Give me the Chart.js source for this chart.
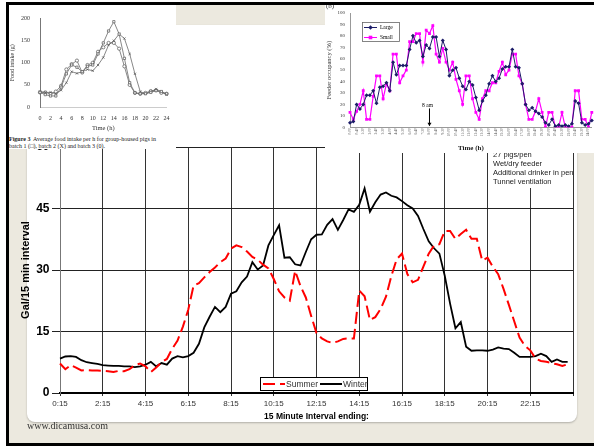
<!DOCTYPE html>
<html>
<head>
<meta charset="utf-8">
<script src="https://cdn.jsdelivr.net/npm/chart.js@4.4.1/dist/chart.umd.min.js"></script>
<style>
  html, body { margin: 0; padding: 0; background: #fff; width: 594px; height: 446px; overflow: hidden; }
  #slide { position: absolute; left: 6px; top: 2px; width: 588px; height: 444px; box-sizing: border-box;
           background: #ECE9DF; border-left: 3px solid #000; border-top: 3px solid #000; border-bottom: 3px solid #000; }
  #panel { position: absolute; left: 27px; top: 25px; width: 550px; height: 397px; background: #fff;
           border-radius: 0 0 8px 8px; box-shadow: 0 1px 2px rgba(0,0,0,0.25); }
  #mainWrap { position: absolute; left: 10px; top: 120px; }
  #site { position: absolute; left: 27px; top: 420px; font: 10px "Liberation Serif", "Times New Roman", serif; color: #333; }
  .inset { position: absolute; background: #fff; overflow: hidden; }
  #inset1 { left: 9px; top: 5px; width: 167px; height: 144px; }
  #inset2 { left: 325px; top: 5px; width: 269px; height: 148px; }
  #caption { position: absolute; left: 0px; top: 131px; white-space: nowrap; color: #222;
             font: 6px/7px "Liberation Serif", "Times New Roman", serif; }
</style>
</head>
<body>
<div id="slide"></div>
<div id="panel"></div>
<div id="mainWrap"><canvas id="mainChart" width="567" height="302"></canvas></div>
<div id="site">www.dicamusa.com</div>

<div class="inset" id="inset1">
  <canvas id="intakeChart" width="168" height="130"></canvas>
  <div id="caption"><b>Figure 3</b>&nbsp; Average food intake per h for group-housed pigs in<br>batch 1 (&#9633;), batch 2 (X) and batch 3 (0).</div>
</div>
<div class="inset" id="inset2">
  <canvas id="occChart" width="272" height="147"></canvas>
</div>

<script>
// ---- main chart: gallons per 15 min interval ----
var summer = [7.2, 5.8, 6.8, 6.2, 5.5, 5.6, 5.5, 5.5, 5.4, 5.3,
              5.1, 5.4, 5.3, 5.8, 6.8, 7.2, 6.5, 5.1, 6.2, 7.5,
              8.3, 10.8, 12.8, 16.2, 20.3, 26.2, 26.8, 28.2, 29.5, 30.6,
              31.9, 32.8, 35.2, 36.0, 35.6, 34.5, 33.2, 32.5, 31.3, 30.4,
              27.8, 24.8, 23.3, 22.5, 29.8, 26.1, 23.3, 18.8, 14.6, 13.3,
              12.6, 12.2, 12.6, 13.2, 13.3, 13.3, 25.0, 23.6, 17.8, 18.5,
              20.5, 23.5, 28.5, 32.6, 34.0, 29.0, 27.0, 27.6, 30.8, 34.0,
              36.0, 36.3, 39.5, 39.5, 37.6, 38.8, 39.8, 37.6, 37.6, 32.3,
              33.0, 30.8, 29.0, 25.4, 21.5, 17.5, 13.5, 11.5, 10.4, 8.4,
              7.8, 7.6, 7.3, 7.0, 6.6, 7.0];
var winter = [8.4, 8.9, 9.0, 8.8, 8.0, 7.5, 7.3, 7.1, 6.8, 6.7,
              6.6, 6.6, 6.5, 6.5, 6.3, 6.5, 6.9, 7.6, 6.5, 7.3,
              6.9, 8.4, 9.0, 8.7, 9.0, 9.8, 12.0, 16.0, 18.6, 21.0,
              19.7, 21.0, 24.2, 24.8, 27.0, 28.4, 31.9, 30.1, 31.1, 36.0,
              38.5, 40.9, 33.0, 33.1, 31.4, 31.1, 34.4, 37.5, 38.6, 38.7,
              41.0, 42.4, 39.8, 42.2, 44.8, 44.2, 45.9, 49.9, 44.2, 46.5,
              48.4, 48.9, 48.1, 47.7, 46.8, 45.8, 45.0, 43.2, 40.0, 37.0,
              35.3, 34.0, 28.6, 21.8, 15.8, 17.3, 11.3, 10.3, 10.4, 10.4,
              10.3, 10.6, 11.1, 10.8, 10.7, 9.8, 8.8, 8.8, 8.8, 9.0,
              9.6, 9.0, 7.6, 8.2, 7.6, 7.6];
var galTicks = [0, 15, 30, 45, 60];
var penNotes = ['27 pigs/pen', 'Wet/dry feeder', 'Additional drinker in pen', 'Tunnel ventilation'];

// 0:15 ... 24:15, one label per 15 minutes
var timeLabels = [];
for (var m = 15; m <= 24 * 60 + 15; m += 15) {
    timeLabels.push(Math.floor(m / 60) + ':' + ('0' + (m % 60)).slice(-2));
}

// ---- inset 1: food intake per hour ----
var hours = [0, 1, 2, 3, 4, 5, 6, 7, 8, 9, 10, 11, 12, 13, 14, 15, 16, 17, 18, 19, 20, 21, 22, 23, 24];
var batch1 = [33, 28, 25, 25, 45, 75, 95, 90, 80, 92, 95, 120, 145, 172, 193, 165, 110, 55, 32, 30, 30, 33, 37, 35, 30];
var batch2 = [35, 33, 33, 30, 38, 55, 80, 76, 80, 85, 82, 95, 112, 140, 150, 165, 155, 120, 75, 35, 30, 35, 40, 35, 28];
var batch3 = [33, 33, 30, 35, 48, 85, 97, 105, 78, 95, 100, 125, 135, 145, 145, 132, 92, 50, 32, 30, 32, 36, 38, 32, 30];

// ---- inset 2: feeder occupancy ----
var largeOcc = [4, 5, 20, 16, 20, 28, 28, 32, 21, 35,
                36, 39, 32, 57, 46, 54, 54, 54, 68, 80,
                74, 76, 62, 72, 69, 79, 79, 62, 76, 68,
                45, 50, 52, 43, 36, 33, 40, 37, 26, 15,
                23, 28, 38, 45, 40, 43, 51, 53, 53, 68,
                53, 52, 38, 20, 15, 17, 14, 12, 9, 4,
                2, 7, 1, 2, 1, 2, 1, 3, 23, 21,
                4, 2, 3, 6];
var smallOcc = [13, 7, 14, 20, 32, 7, 7, 27, 45, 45,
                25, 38, 32, 64, 64, 39, 45, 50, 75, 75,
                82, 82, 57, 85, 82, 89, 64, 57, 69, 57,
                50, 57, 42, 32, 20, 45, 45, 25, 13, 7,
                25, 32, 32, 39, 39, 49, 57, 46, 50, 64,
                64, 45, 38, 20, 7, 7, 14, 25, 13, 0,
                13, 13, 0, 0, 13, 0, 0, 0, 32, 32,
                7, 7, 0, 13];
var occLabels = [];
for (var k = 0; k < largeOcc.length; k++) {
    var mm = k * 20;
    occLabels.push(Math.floor(mm / 60) + ':' + ('0' + (mm % 60)).slice(-2));
}

var SANS = '"Liberation Sans", Arial, sans-serif';
var SERIF = '"Liberation Serif", "Times New Roman", serif';
Chart.defaults.color = '#333';

var mainExtras = {
    id: 'mainExtras',
    beforeDatasetsDraw: function (chart) {
        var ctx = chart.ctx, a = chart.chartArea;
        ctx.save();
        ctx.fillStyle = '#fff';
        ctx.fillRect(a.right - 83, a.top + 1, 81, 40);
        ctx.fillStyle = '#222';
        ctx.font = '7.5px ' + SANS;
        ctx.textBaseline = 'middle';
        penNotes.forEach(function (t, i) {
            ctx.fillText(t, a.right - 80, a.top + 8 + i * 9);
        });
        ctx.restore();
    },
    afterDatasetsDraw: function (chart) {
        // legend box sits inside the plot, bottom middle
        var ctx = chart.ctx, a = chart.chartArea;
        var lx = a.left + 200, ly = a.bottom - 16;
        ctx.save();
        ctx.fillStyle = '#fff';
        ctx.fillRect(lx, ly, 108, 14);
        ctx.strokeStyle = '#000';
        ctx.lineWidth = 1;
        ctx.strokeRect(lx + 0.5, ly + 0.5, 107, 13);
        ctx.font = '8.5px ' + SANS;
        ctx.textBaseline = 'middle';
        var offs = [3, 60];
        chart.data.datasets.forEach(function (ds, i) {
            var sx = lx + offs[i];
            ctx.beginPath();
            ctx.setLineDash(ds.borderDash || []);
            ctx.strokeStyle = ds.borderColor;
            ctx.lineWidth = 2;
            ctx.moveTo(sx, ly + 7);
            ctx.lineTo(sx + 22, ly + 7);
            ctx.stroke();
            ctx.setLineDash([]);
            ctx.fillStyle = '#333';
            ctx.fillText(ds.label, sx + 23, ly + 7.5);
        });
        ctx.restore();
    }
};

new Chart(document.getElementById('mainChart'), {
    type: 'line',
    data: {
        labels: timeLabels,
        datasets: [
            { label: 'Summer', data: summer, borderColor: '#ff0000', borderWidth: 2, borderDash: [12, 5],
              pointRadius: 0, fill: false, tension: 0 },
            { label: 'Winter', data: winter, borderColor: '#000', borderWidth: 1.8,
              pointRadius: 0, fill: false, tension: 0 }
        ]
    },
    options: {
        responsive: false,
        animation: false,
        layout: { padding: { top: 27, right: 4, left: 0, bottom: 0 } },
        plugins: { legend: { display: false }, tooltip: { enabled: false } },
        scales: {
            x: {
                afterFit: function (s) { s.height = 29; },
                grid: {
                    color: function (c) { return c.index % 8 === 0 ? '#333' : 'rgba(0,0,0,0)'; },
                    lineWidth: 1, tickLength: 3
                },
                border: { color: '#000', width: 2 },
                ticks: {
                    autoSkip: false, maxRotation: 0, minRotation: 0, padding: 2.7, color: '#333',
                    font: { family: SANS, size: 8 },
                    callback: function (v, i) { return (i % 8 === 0 && i < 96) ? this.getLabelForValue(v) : ''; }
                },
                title: { display: true, text: '15 Minute Interval ending:', color: '#000',
                         font: { family: SANS, size: 8.5, weight: 'bold' }, padding: 0 }
            },
            y: {
                min: 0, max: 60,
                afterFit: function (s) { s.width = 50; },
                afterBuildTicks: function (s) { s.ticks = galTicks.map(function (v) { return { value: v }; }); },
                grid: { color: '#222', lineWidth: 1, tickLength: 8 },
                border: { color: '#777', width: 1 },
                ticks: { padding: 2.5, color: '#000', font: { family: SANS, size: 12, weight: 'bold' } },
                title: { display: true, text: 'Gal/15 min interval', color: '#000',
                         font: { family: SANS, size: 11, weight: 'bold' }, padding: { top: 9.4, bottom: 0 } }
            }
        }
    },
    plugins: [mainExtras]
});

// ---- inset 1 chart ----
new Chart(document.getElementById('intakeChart'), {
    type: 'line',
    data: {
        labels: hours,
        datasets: [
            { label: 'batch 1', data: batch1, pointStyle: 'rect' },
            { label: 'batch 2', data: batch2, pointStyle: 'crossRot' },
            { label: 'batch 3', data: batch3, pointStyle: 'circle' }
        ].map(function (d) {
            d.borderColor = '#6a6a6a'; d.borderWidth = 0.8; d.pointRadius = 1.6;
            d.pointBorderColor = '#555'; d.pointBackgroundColor = '#fff'; d.pointBorderWidth = 0.7;
            d.fill = false; d.tension = 0;
            return d;
        })
    },
    options: {
        responsive: false,
        animation: false,
        layout: { padding: { top: 9, right: 5, left: 0, bottom: 0 } },
        plugins: { legend: { display: false }, tooltip: { enabled: false } },
        scales: {
            x: {
                afterFit: function (s) { s.height = 28; },
                grid: { display: false, drawTicks: false },
                border: { color: '#ccc', width: 1 },
                ticks: { autoSkip: false, maxRotation: 0, padding: 7.4, color: '#333', font: { family: SERIF, size: 6 },
                         callback: function (v, i) { return i % 2 === 0 ? this.getLabelForValue(v) : ''; } },
                title: { display: true, text: 'Time (h)', color: '#333', font: { family: SERIF, size: 6.5 }, padding: { top: 0, bottom: 3 } }
            },
            y: {
                min: 0, max: 200,
                afterFit: function (s) { s.width = 31; },
                grid: { display: false, drawTicks: false },
                border: { color: '#777', width: 1 },
                ticks: { stepSize: 50, padding: 10, color: '#333', font: { family: SERIF, size: 6 } },
                title: { display: true, text: 'Food intake (g)', color: '#333', font: { family: SERIF, size: 6 }, padding: { top: 0, bottom: 0 } }
            }
        }
    }
});

// ---- inset 2 chart ----
var occExtras = {
    id: 'occExtras',
    afterDatasetsDraw: function (chart) {
        var ctx = chart.ctx, a = chart.chartArea;
        var xs = chart.scales.x, ys = chart.scales.y;
        ctx.save();
        // "(b)" panel tag, mostly hidden under the frame
        ctx.fillStyle = '#333';
        ctx.font = '7px ' + SERIF;
        ctx.textBaseline = 'top';
        ctx.fillText('(b)', 1, -2);
        // 8 am marker
        var ax = xs.getPixelForValue(24);
        ctx.textAlign = 'center';
        ctx.textBaseline = 'middle';
        ctx.font = '5.5px ' + SERIF;
        ctx.fillStyle = '#000';
        ctx.fillText('8 am', ax - 2, ys.getPixelForValue(19));
        ctx.strokeStyle = '#000';
        ctx.lineWidth = 1;
        ctx.beginPath();
        ctx.moveTo(ax, ys.getPixelForValue(16.5));
        ctx.lineTo(ax, ys.getPixelForValue(1.5));
        ctx.stroke();
        ctx.beginPath();
        ctx.moveTo(ax - 2, ys.getPixelForValue(4));
        ctx.lineTo(ax, ys.getPixelForValue(1));
        ctx.lineTo(ax + 2, ys.getPixelForValue(4));
        ctx.closePath();
        ctx.fill();
        // legend box
        var lx = a.left + 12, ly = a.top + 9;
        ctx.fillStyle = '#fff';
        ctx.fillRect(lx, ly, 38, 20);
        ctx.strokeStyle = '#666';
        ctx.lineWidth = 0.8;
        ctx.strokeRect(lx + 0.5, ly + 0.5, 37, 19);
        ctx.textAlign = 'left';
        chart.data.datasets.forEach(function (ds, i) {
            var yy = ly + 5.5 + i * 10;
            ctx.strokeStyle = ds.borderColor;
            ctx.lineWidth = 1;
            ctx.beginPath();
            ctx.moveTo(lx + 2, yy);
            ctx.lineTo(lx + 15, yy);
            ctx.stroke();
            ctx.fillStyle = ds.borderColor;
            ctx.beginPath();
            if (i === 0) {
                ctx.moveTo(lx + 8.5, yy - 2.3); ctx.lineTo(lx + 10.8, yy);
                ctx.lineTo(lx + 8.5, yy + 2.3); ctx.lineTo(lx + 6.2, yy);
                ctx.closePath();
            } else {
                ctx.rect(lx + 6.7, yy - 1.8, 3.6, 3.6);
            }
            ctx.fill();
            ctx.fillStyle = '#000';
            ctx.font = '5.5px ' + SERIF;
            ctx.fillText(ds.label, lx + 18, yy + 0.3);
        });
        ctx.restore();
    }
};

new Chart(document.getElementById('occChart'), {
    type: 'line',
    data: {
        labels: occLabels,
        datasets: [
            { label: 'Large', data: largeOcc, borderColor: '#1c1c68', backgroundColor: '#1c1c68', borderWidth: 1,
              pointStyle: 'rectRot', pointRadius: 2, pointBorderWidth: 0, fill: false, tension: 0 },
            { label: 'Small', data: smallOcc, borderColor: '#ff00ff', backgroundColor: '#ff00ff', borderWidth: 1.2,
              pointStyle: 'rect', pointRadius: 2, pointBorderWidth: 0, fill: false, tension: 0 }
        ]
    },
    options: {
        responsive: false,
        animation: false,
        layout: { padding: { top: 1.2, right: 2, left: 0, bottom: 0 } },
        plugins: { legend: { display: false }, tooltip: { enabled: false } },
        scales: {
            x: {
                afterFit: function (s) { s.height = 24.7; },
                grid: { display: false, drawTicks: false },
                border: { color: '#999', width: 1 },
                ticks: { autoSkip: false, minRotation: 90, maxRotation: 90, padding: 1, color: '#555',
                         font: { family: SERIF, size: 3.5 },
                         callback: function (v, i) { return i % 2 === 0 ? this.getLabelForValue(v) : ''; } },
                title: { display: true, text: 'Time (h)', color: '#222', font: { family: SERIF, size: 7, weight: 'bold' }, padding: 0 }
            },
            y: {
                min: 0, max: 100,
                afterFit: function (s) { s.width = 25; },
                grid: { display: false, drawTicks: false },
                border: { color: '#999', width: 1 },
                ticks: { stepSize: 10, padding: 5, color: '#333', font: { family: SERIF, size: 5 } },
                title: { display: true, text: 'Feeder occupancy (%)', color: '#333', font: { family: SERIF, size: 6.5 }, padding: { top: 0.4, bottom: 0 } }
            }
        }
    },
    plugins: [occExtras]
});
</script>
</body>
</html>
